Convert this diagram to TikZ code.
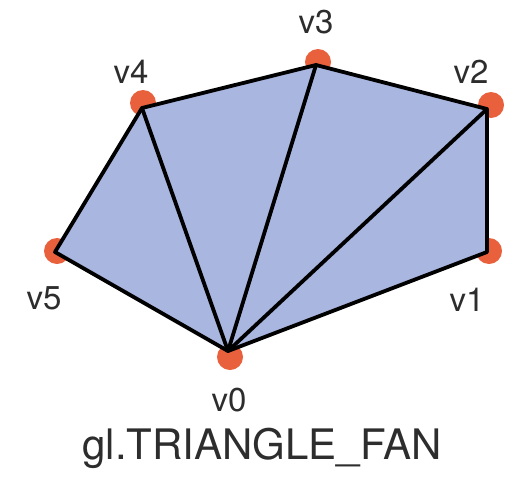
\documentclass[tikz,border=0pt]{standalone}
\usepackage{fontspec}
\setmainfont{TeX Gyre Heros}
\definecolor{fanfill}{RGB}{168,182,224}
\definecolor{dotcol}{RGB}{232,96,60}
\definecolor{txt}{RGB}{45,45,45}
\begin{document}
\begin{tikzpicture}[x=1pt,y=-1pt,
  edge/.style={draw=black,line width=3.8pt,line join=round,line cap=round},
  vdot/.style={circle,fill=dotcol,inner sep=0pt,minimum size=26pt},
  vlabel/.style={text=txt,font=\fontsize{33}{33}\selectfont,inner sep=0pt},
  caption/.style={text=txt,font=\fontsize{42}{42}\selectfont,inner sep=0pt}]
\useasboundingbox (0,0) rectangle (510,479);
\coordinate (v0) at (228,351);
\coordinate (v1) at (487,252);
\coordinate (v2) at (487,109);
\coordinate (v3) at (316,65);
\coordinate (v4) at (142,108);
\coordinate (v5) at (55,252);
% dots
\node[vdot] (d0) at (230,357) {};
\node[vdot] (d1) at (489,251) {};
\node[vdot] (d2) at (491,105) {};
\node[vdot] (d3) at (318,62) {};
\node[vdot] (d4) at (143,103) {};
\node[vdot] (d5) at (57,251) {};
% fill
\fill[fanfill] (v0) -- (v1) -- (v2) -- (v3) -- (v4) -- (v5) -- cycle;
% edges
\draw[edge] (v0) -- (v1) -- (v2) -- (v3) -- (v4) -- (v5) -- cycle;
\draw[edge] (v0) -- (v2);
\draw[edge] (v0) -- (v3);
\draw[edge] (v0) -- (v4);
% labels
\node[vlabel] (l3) at (316,22) {v3};
\node[vlabel] (l4) at (131,72) {v4};
\node[vlabel] (l2) at (471,72) {v2};
\node[vlabel] (l5) at (44,298) {v5};
\node[vlabel] (l1) at (467,300) {v1};
\node[vlabel] (l0) at (229,400) {v0};
\node[caption] (cap) at (262,448) {gl.TRIANGLE\_FAN};
\end{tikzpicture}
\end{document}
